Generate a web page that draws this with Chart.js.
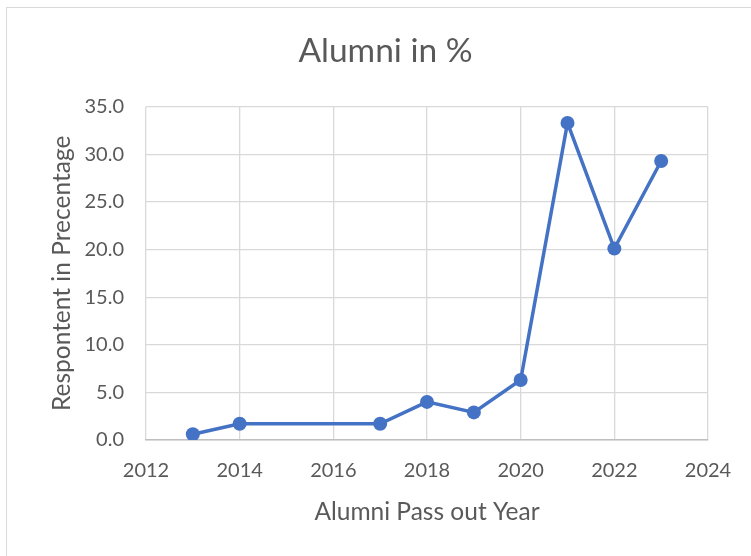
<!DOCTYPE html>
<html lang="en">
<head>
  <meta charset="UTF-8">
  <title>Alumni in %</title>
  <script src="https://cdn.jsdelivr.net/npm/chart.js"></script>
  <style>
    html, body {
      margin: 0;
      padding: 0;
      background: #fff;
    }

    .frame {
      position: absolute;
      left: 6px;
      top: 7px;
      width: 760px;
      height: 560px;
      border: 1px solid #d9d9d9;
    }

    .wrap {
      position: absolute;
      left: 0;
      top: 0;
      width: 751px;
      height: 556px;
    }
  </style>
</head>
<body>
  <div class="frame"></div>
  <div class="wrap">
    <canvas id="alumniChart" width="751" height="556"></canvas>
  </div>

  <script>
    // pass out years and share of respondents (%)
    const years = [2013, 2014, 2017, 2018, 2019, 2020, 2021, 2022, 2023];
    const percentages = [0.6, 1.7, 1.7, 4.0, 2.9, 6.3, 33.3, 20.1, 29.3];

    const textColor = '#595959';
    const gridColor = '#d9d9d9';
    const blue = '#4472c4';

    const points = years.map((year, i) => ({ x: year, y: percentages[i] }));

    const ctx = document.getElementById('alumniChart').getContext('2d');

    new Chart(ctx, {
      type: 'line',
      data: {
        datasets: [{
          label: 'Alumni in %',
          data: points,
          borderColor: blue,
          backgroundColor: blue,
          borderWidth: 3.5,
          pointRadius: 7,
          pointHoverRadius: 7,
          pointBorderWidth: 0,
          tension: 0
        }]
      },
      options: {
        responsive: false,
        animation: false,
        // left padding keeps the main title centred on the whole frame
        layout: {
          padding: { left: 63, right: 43, top: 0, bottom: 29 }
        },
        plugins: {
          legend: { display: false },
          tooltip: { enabled: false },
          title: {
            display: true,
            text: 'Alumni in %',
            color: textColor,
            font: { family: 'Lato', size: 33.5, weight: 'normal' },
            padding: { top: 31.5, bottom: 35 }
          }
        },
        scales: {
          x: {
            type: 'linear',
            min: 2012,
            max: 2024,
            ticks: {
              stepSize: 2,
              color: textColor,
              padding: 19,
              font: { family: 'Lato', size: 20 },
              callback: value => String(value)
            },
            grid: {
              color: gridColor,
              lineWidth: 1.3,
              drawTicks: false
            },
            border: { color: '#bfbfbf', width: 1.5 },
            title: {
              display: true,
              text: 'Alumni Pass out Year',
              color: textColor,
              font: { family: 'Lato', size: 24.5 },
              padding: { top: 0, bottom: 0 }
            },
            afterFit: scale => { scale.height = 87; }
          },
          y: {
            min: 0,
            max: 35,
            ticks: {
              stepSize: 5,
              color: textColor,
              padding: 22,
              font: { family: 'Lato', size: 20 },
              callback: value => value.toFixed(1)
            },
            grid: {
              color: gridColor,
              lineWidth: 1.3,
              drawTicks: false
            },
            border: { display: false },
            title: {
              display: true,
              text: 'Respontent in Precentage',
              color: textColor,
              font: { family: 'Lato', size: 24.5 },
              // pulls the rotated title back out past the layout padding
              padding: { top: -16, bottom: 0 }
            },
            afterFit: scale => { scale.width = 83; }
          }
        }
      }
    });
  </script>
</body>
</html>
